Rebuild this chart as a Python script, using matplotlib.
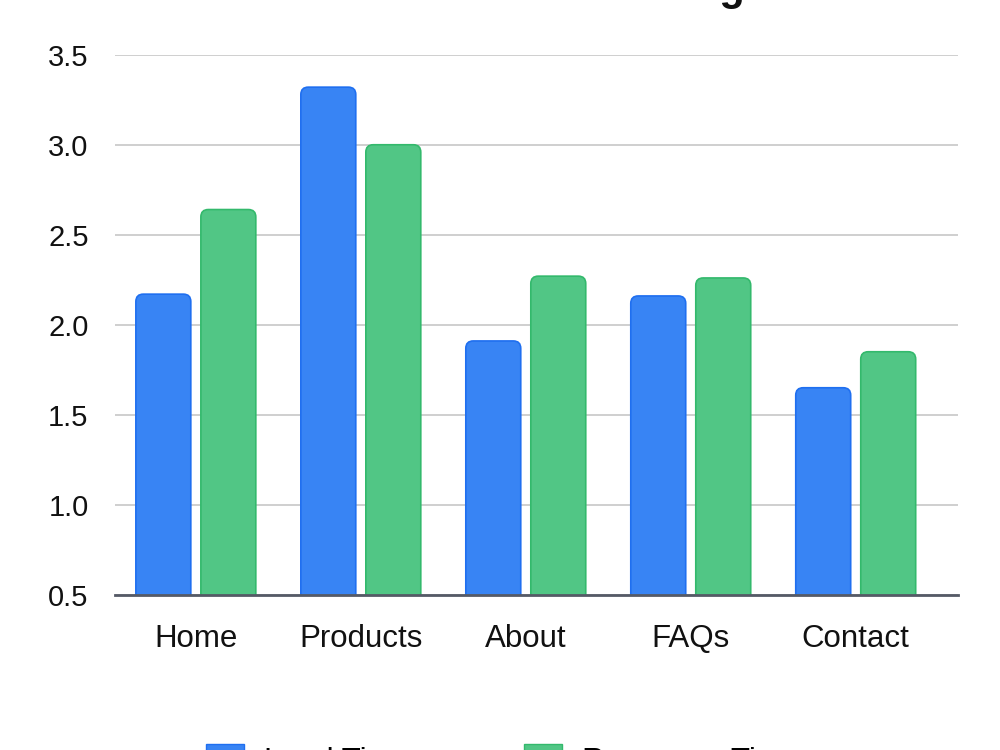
import matplotlib
matplotlib.use("Agg")
import matplotlib.pyplot as plt
from matplotlib.patches import FancyBboxPatch, Patch
import numpy as np

categories = ["Home", "Products", "About", "FAQs", "Contact"]
load_time = [2.17, 3.32, 1.91, 2.16, 1.65]
response_time = [2.64, 3.00, 2.27, 2.26, 1.85]
series_names = ["Load Time", "Response Time"]
yticks = [0.5, 1.0, 1.5, 2.0, 2.5, 3.0, 3.5]
title = "Website Load Timing"

blue, blue_edge = "#3884F4", "#1f6ff0"
green, green_edge = "#51C685", "#33b96c"

plt.rcParams['font.family'] = ['Liberation Sans', 'DejaVu Sans']
fig = plt.figure(figsize=(10, 7.5), dpi=100)
ax = fig.add_axes([0.115, 0.207, 0.843, 0.72])

x = np.arange(len(categories))
w = 0.333
off = 0.197
base = 0.3
for xs, vals, fc, ec in [(x - off, load_time, blue, blue_edge),
                         (x + off, response_time, green, green_edge)]:
    bars = ax.bar(xs, np.array(vals) - base, w, bottom=base, color='none')
    for b in bars:
        p = FancyBboxPatch((b.get_x(), b.get_y()), b.get_width(), b.get_height(),
                           boxstyle="round,pad=0,rounding_size=0.045",
                           mutation_aspect=0.92, facecolor=fc, edgecolor=ec,
                           linewidth=1.2, zorder=3)
        ax.add_patch(p)
        b.remove()

ax.set_ylim(0.5, 3.5)
ax.set_xlim(-0.49, 4.62)
ax.set_yticks(yticks)
ax.set_yticklabels([f"{v:.1f}" for v in yticks])
ax.set_xticks(x)
ax.set_xticklabels(categories)
ax.tick_params(axis='both', length=0, colors='#111111')
ax.tick_params(axis='y', pad=19, labelsize=21)
ax.tick_params(axis='x', pad=21, labelsize=22.5)
ax.yaxis.grid(True, color='#cccccc', linewidth=1.3, zorder=0)
ax.set_axisbelow(True)
for s in ['top', 'right', 'left']:
    ax.spines[s].set_visible(False)
ax.spines['bottom'].set_color('#555a66')
ax.spines['bottom'].set_linewidth(2)
ax.spines['bottom'].set_zorder(4)

fig.text(0.745, 1.0005, title, ha='right', va='baseline', fontsize=30,
         fontweight='bold', color='#111111')

handles = [Patch(facecolor=blue, edgecolor=blue_edge),
           Patch(facecolor=green, edgecolor=green_edge)]
fig.legend(handles, series_names, loc='upper left', bbox_to_anchor=(0.206, 1 - 743.5/750),
           ncol=2, frameon=False, fontsize=22.5, handlelength=1.22, handleheight=1.2,
           handletextpad=0.64, columnspacing=3.65, borderpad=0, borderaxespad=0)

fig.savefig("out.png", dpi=100)
